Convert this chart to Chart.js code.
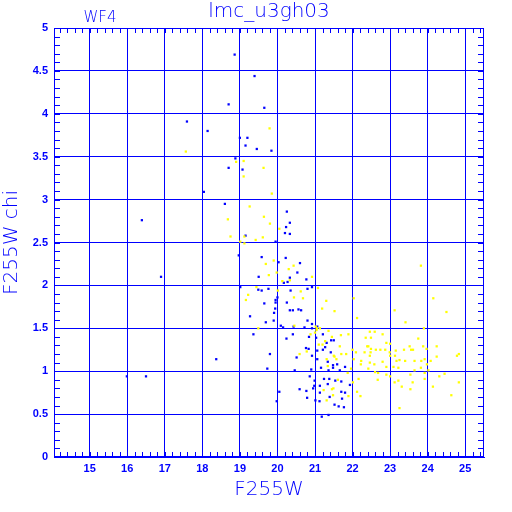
<!DOCTYPE html>
<html>
<head>
<meta charset="utf-8">
<script src="https://cdn.jsdelivr.net/npm/chart.js@4/dist/chart.umd.min.js"></script>
<style>
  html, body { margin: 0; padding: 0; background: #fff; }
  #wrap { width: 512px; height: 512px; }
</style>
</head>
<body>
<div id="wrap"><canvas id="chart" width="512" height="512"></canvas></div>
<script>
// tick labels
const xTicks = [15, 16, 17, 18, 19, 20, 21, 22, 23, 24, 25];
const yTicks = [0, 0.5, 1, 1.5, 2, 2.5, 3, 3.5, 4, 4.5, 5];

// [F255W, F255W chi]
const bluePoints = [
  [18.86,4.69],[19.39,4.44],[18.70,4.11],[19.65,4.07],[17.59,3.91],[18.14,3.80],[19.00,3.72],[19.20,3.72],
  [19.15,3.63],[19.45,3.59],[19.84,3.57],[18.88,3.48],[18.70,3.37],[19.07,3.35],[18.04,3.09],[18.60,2.95],
  [19.15,2.58],[19.95,2.51],[18.97,2.35],[19.58,2.33],[20.03,2.27],
  [20.25,2.86],[20.33,2.73],[20.23,2.68],[20.20,2.61],[20.33,2.60],[20.22,2.32],[20.60,2.26],[20.53,2.15],
  [19.50,2.10],[20.33,2.09],[20.27,2.04],[20.17,2.03],[20.77,2.07],[20.80,1.96],[20.92,1.98],[19.01,1.98],
  [19.49,1.95],[19.58,1.94],[19.76,1.96],[20.00,1.86],[20.25,1.80],[19.95,1.83],[19.95,1.80],[19.65,1.79],
  [19.94,1.73],[20.33,1.71],[20.41,1.71],[20.56,1.72],[20.63,1.71],[19.91,1.68],[19.27,1.64],[19.69,1.57],
  [19.90,1.59],[20.09,1.53],[20.15,1.51],[20.43,1.52],[20.72,1.51],[20.80,1.59],[20.92,1.55],[21.06,1.52],
  [20.35,1.94],
  [19.36,1.43],[19.80,1.20],[19.73,1.03],[20.24,1.38],[20.41,1.43],[20.51,1.16],[20.46,1.01],[20.84,1.40],
  [20.92,1.50],[21.03,1.39],[21.21,1.43],[21.31,1.33],[21.43,1.36],[21.50,1.36],[20.83,1.26],[21.06,1.24],
  [21.21,1.25],[21.27,1.28],[21.42,1.22],[20.92,1.18],[21.06,1.14],[21.34,1.11],[21.48,1.07],[21.59,1.08],
  [21.80,1.05],[20.90,1.02],[21.16,1.04],[21.48,1.04],[21.36,1.01],[21.66,1.01],[20.86,0.94],[20.99,0.89],
  [21.24,0.91],[21.38,0.91],[21.54,0.89],[21.13,0.83],[21.34,0.85],[21.70,0.88],[21.93,0.84],[20.59,0.79],
  [20.77,0.77],[20.95,0.80],[21.13,0.75],[21.70,0.76],[21.80,0.75],[20.05,0.76],[19.98,0.65],[20.79,0.69],
  [21.01,0.66],[21.12,0.65],[21.39,0.70],[21.52,0.61],[21.63,0.59],[21.77,0.58],[21.18,0.47],[21.36,0.49],
  [20.76,1.27],[20.98,0.83],[21.72,0.68],
  [16.39,2.76],[16.90,2.10],[15.99,0.94],[16.50,0.94],[18.37,1.14]
];

const yellowPoints = [
  [19.79,3.83],[17.56,3.56],[18.90,3.44],[19.10,3.45],[19.63,3.37],[19.10,3.27],[19.85,3.07],[19.26,2.92],
  [18.68,2.77],[19.64,2.80],[19.80,2.72],[20.05,2.66],[18.75,2.57],[19.12,2.57],[19.42,2.53],[19.61,2.56],
  [19.01,2.51],[19.12,2.49],[19.69,2.25],[19.90,2.29],
  [19.98,2.15],[20.30,2.19],[20.43,2.23],[19.77,2.12],[20.13,2.05],[20.33,2.06],[20.92,2.10],[21.08,1.97],
  [19.44,1.98],[20.01,1.94],[19.22,1.89],[19.16,1.83],[20.44,1.86],[20.68,1.85],[20.62,1.93],[21.30,1.82],
  [21.19,1.73],[20.45,1.53],[19.49,1.50],[21.05,1.50],
  [20.59,1.20],[20.78,1.23],[21.34,1.06],[21.61,0.90],[21.23,0.78],[21.31,0.66],[21.48,0.72],[21.89,0.71],
  [22.12,0.76],[22.21,0.71],[22.01,0.87],[22.16,0.91],[21.87,0.98],[21.96,1.03],[21.52,1.17],[21.70,1.20],
  [21.83,1.20],[22.00,1.25],[22.09,1.22],[22.23,1.12],[22.32,1.22],[22.39,1.29],[21.69,1.42],[21.89,1.43],
  [21.45,1.40],[21.20,1.31],[21.27,1.35],[21.13,1.50],[21.36,1.47],[21.52,1.70],[22.12,1.62],[22.03,1.85],
  [22.35,1.39],[20.88,1.43],[21.00,1.45],[21.02,1.52],[21.31,1.14],[21.57,1.14],[21.45,0.79],[21.04,1.48],
  [21.10,1.31],[21.66,1.29],[21.50,1.18],[21.49,0.80],[22.03,1.14],
  [23.12,1.71],[23.41,1.57],[22.46,1.46],[22.59,1.46],[22.80,1.43],[22.49,1.39],[22.90,1.33],[23.00,1.32],
  [22.42,1.29],[22.49,1.26],[23.52,1.29],[23.75,1.38],[22.48,1.22],[22.62,1.25],[22.74,1.25],[22.87,1.25],
  [22.99,1.22],[23.15,1.24],[23.37,1.25],[23.56,1.25],[23.61,1.25],[23.00,1.18],[23.13,1.18],[23.25,1.13],
  [23.40,1.12],[23.17,1.12],[23.65,1.12],[22.46,1.18],[22.22,1.08],[22.46,1.10],[22.58,1.08],[22.80,1.11],
  [22.90,1.05],[23.09,1.05],[23.22,1.04],[22.42,1.03],[22.60,0.99],[22.68,0.98],[22.90,0.96],[23.00,0.94],
  [23.22,0.89],[23.12,0.87],[23.31,0.82],[23.54,0.96],[23.65,1.01],[23.54,0.79],[22.67,0.90],[23.25,0.57],
  [23.82,2.23],[24.15,1.85],[24.50,1.69],[23.90,1.50],[24.24,1.29],[23.88,1.29],[23.97,1.26],[24.83,1.20],
  [24.78,1.18],[24.24,1.17],[23.92,1.14],[23.83,1.12],[24.08,1.12],[23.98,1.08],[23.82,1.04],[23.92,0.98],
  [24.02,1.01],[24.45,0.97],[24.31,0.94],[23.92,0.91],[24.83,0.87],[24.14,0.82],[24.63,0.72],[23.60,0.87]
];

const BLUE = "#0000ff";
const YELLOW = "#ffff00";
const THIN = "200 20px 'DejaVu Sans'";

// frame, minor ticks, plot title and the WF4 tag
const framePlugin = {
  id: "frame",
  afterDraw(chart) {
    const ctx = chart.ctx;
    const a = chart.chartArea;
    const xs = chart.scales.x, ys = chart.scales.y;
    ctx.save();
    ctx.strokeStyle = BLUE;
    ctx.lineWidth = 1;
    ctx.strokeRect(a.left + 0.5, a.top + 0.5, a.right - a.left - 1, a.bottom - a.top - 1);
    ctx.beginPath();
    for (let i = 71; i <= 127; i++) {
      const px = Math.round(xs.getPixelForValue(i / 5)) + 0.5;
      if (px <= a.left || px >= a.right) continue;
      ctx.moveTo(px, a.bottom); ctx.lineTo(px, a.bottom - 5);
      ctx.moveTo(px, a.top); ctx.lineTo(px, a.top + 5);
    }
    for (let i = 1; i < 50; i++) {
      const py = Math.round(ys.getPixelForValue(i / 10)) + 0.5;
      ctx.moveTo(a.left, py); ctx.lineTo(a.left + 6, py);
      ctx.moveTo(a.right, py); ctx.lineTo(a.right - 6, py);
    }
    ctx.stroke();
    ctx.fillStyle = BLUE;
    ctx.textAlign = "center";
    ctx.textBaseline = "middle";
    ctx.font = THIN;
    ctx.fillText("lmc_u3gh03", (a.left + a.right) / 2, 12);
    ctx.font = "200 15px 'DejaVu Sans'";
    ctx.fillText("WF4", 100, 18);
    ctx.restore();
  },
};

new Chart(document.getElementById("chart"), {
  type: "scatter",
  data: {
    datasets: [
      {
        label: "yellow",
        data: yellowPoints.map((p) => ({ x: p[0], y: p[1] })),
        backgroundColor: YELLOW,
        borderWidth: 0,
        pointStyle: "rect",
        pointRadius: 1.6,
      },
      {
        label: "blue",
        data: bluePoints.map((p) => ({ x: p[0], y: p[1] })),
        backgroundColor: BLUE,
        borderWidth: 0,
        pointStyle: "rect",
        pointRadius: 1.6,
      },
    ],
  },
  options: {
    responsive: false,
    animation: false,
    layout: { padding: { left: 0, right: 28, top: 28, bottom: 0 } },
    scales: {
      x: {
        type: "linear",
        min: 14.05,
        max: 25.5,
        afterBuildTicks: (s) => { s.ticks = xTicks.map((v) => ({ value: v })); },
        afterFit: (s) => { s.height = 55; },
        grid: { color: BLUE, lineWidth: 1, drawTicks: false },
        border: { color: BLUE },
        ticks: {
          color: BLUE,
          padding: 5,
          font: { family: "'Liberation Sans'", size: 11, weight: "bold" },
          callback: (v) => String(v),
        },
        title: {
          display: true,
          text: "F255W",
          color: BLUE,
          font: { family: "'DejaVu Sans'", size: 20, weight: "200" },
          padding: { top: 0, bottom: 10 },
        },
      },
      y: {
        type: "linear",
        min: 0,
        max: 5,
        afterBuildTicks: (s) => { s.ticks = yTicks.map((v) => ({ value: v })); },
        afterFit: (s) => { s.width = 54; },
        grid: { color: BLUE, lineWidth: 1, drawTicks: false },
        border: { color: BLUE },
        ticks: {
          color: BLUE,
          padding: 6,
          font: { family: "'Liberation Sans'", size: 11, weight: "bold" },
          callback: (v) => String(v),
        },
        title: {
          display: true,
          text: "F255W chi",
          color: BLUE,
          font: { family: "'DejaVu Sans'", size: 20, weight: "200" },
          padding: { top: 0, bottom: 0 },
        },
      },
    },
    plugins: {
      legend: { display: false },
      tooltip: { enabled: false },
      title: { display: false },
    },
  },
  plugins: [framePlugin],
});
</script>
</body>
</html>
